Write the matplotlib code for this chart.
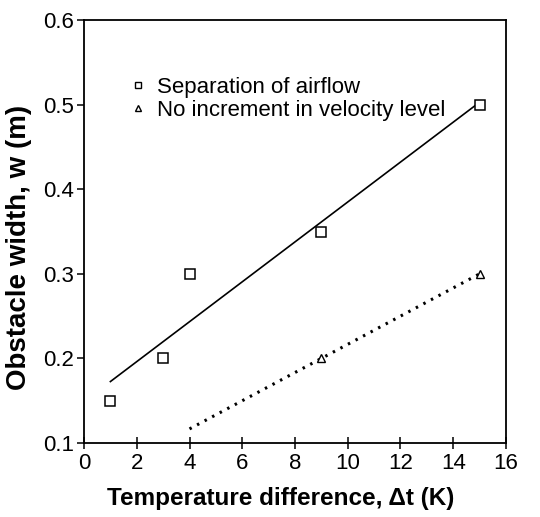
import matplotlib
matplotlib.use('Agg')
import matplotlib.pyplot as plt
from matplotlib.lines import Line2D
import numpy as np

plt.rcParams['font.family'] = ['Liberation Sans', 'DejaVu Sans']

# data
sep_dt = [1, 3, 4, 9, 15]
sep_w = [0.15, 0.20, 0.30, 0.35, 0.50]
noinc_dt = [9, 15]
noinc_w = [0.20, 0.30]
fit_range_sep = [1, 15]
fit_range_noinc = [4, 15]
xticks = [0, 2, 4, 6, 8, 10, 12, 14, 16]
yticks = [0.1, 0.2, 0.3, 0.4, 0.5, 0.6]

fig = plt.figure(figsize=(5.4, 5.17), dpi=100)
ax = fig.add_axes([0.1556, 0.1431, 0.7814, 0.8182])

# least-squares lines through each series
p1 = np.polyfit(sep_dt, sep_w, 1)
p2 = np.polyfit(noinc_dt, noinc_w, 1)
x1 = np.array(fit_range_sep)
x2 = np.array(fit_range_noinc)
ax.plot(x1, np.polyval(p1, x1), color='black', lw=1.2)
ax.plot(x2, np.polyval(p2, x2), color='black', lw=2.2, linestyle=(0, (0.8, 2.0)))

ax.plot(sep_dt, sep_w, 's', ms=7.5, mfc='white', mec='black', mew=1.1)
ax.plot(noinc_dt, noinc_w, '^', ms=5.5, mfc='white', mec='black', mew=1.0)

ax.set_xlim(0, 16)
ax.set_ylim(0.1, 0.6)
ax.set_xticks(xticks)
ax.set_yticks(yticks)
ax.set_xticklabels([str(t) for t in xticks])
ax.set_yticklabels([f'{t:.1f}' for t in yticks])
ax.tick_params(axis='x', direction='inout', length=8, width=1.1, labelsize=16, pad=3)
ax.tick_params(axis='y', direction='out', length=5, width=1.1, labelsize=16, pad=2)
for s in ax.spines.values():
    s.set_linewidth(1.3)

ax.set_xlabel('Temperature difference, \u0394t (K)', fontsize=17.5, fontweight='bold')
ax.set_ylabel('Obstacle width, w (m)', fontsize=20, fontweight='bold')
ax.xaxis.set_label_coords(0.467, -0.103)
ax.yaxis.set_label_coords(-0.123, 0.463)

handles = [
    Line2D([], [], marker='s', ls='none', ms=5, mfc='white', mec='black', mew=1.0),
    Line2D([], [], marker='^', ls='none', ms=4.5, mfc='white', mec='black', mew=1.0),
]
labels = ['Separation of airflow', 'No increment in velocity level']
ax.legend(handles, labels, loc='upper left', bbox_to_anchor=(0.107, 0.866),
          frameon=False, fontsize=16, handlelength=0.8, handletextpad=0.45,
          labelspacing=0.1, borderpad=0, borderaxespad=0)

fig.savefig('out.png', dpi=100)
